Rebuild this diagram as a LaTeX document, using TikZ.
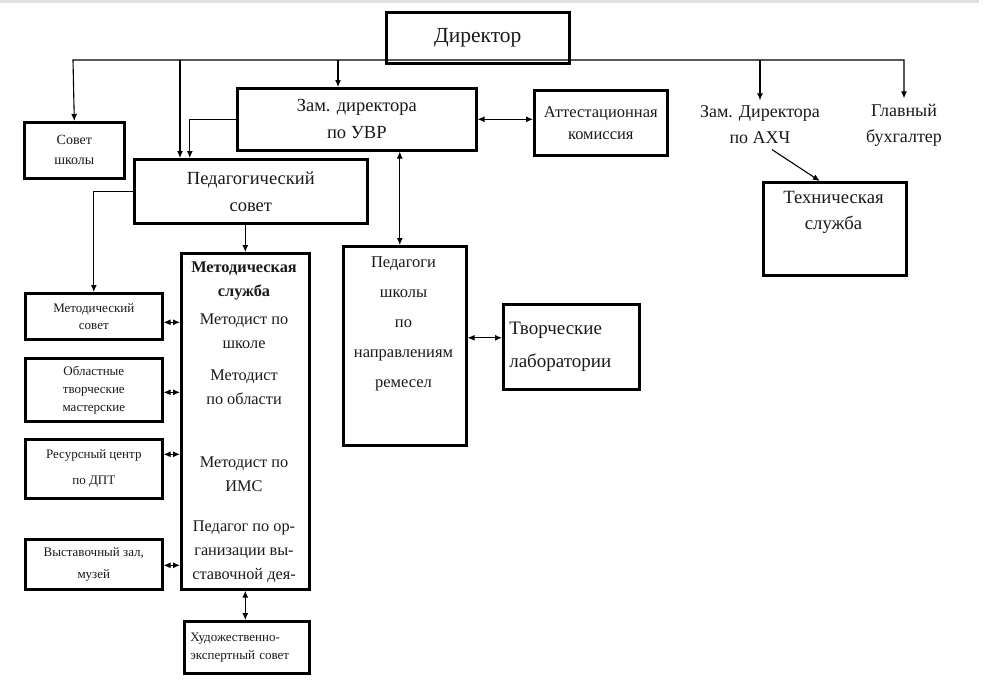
\documentclass[tikz,border=0pt]{standalone}
\usepackage{fontspec}
\setmainfont{Liberation Serif}
\usetikzlibrary{arrows.meta}
\definecolor{ink}{gray}{0.1}

\begin{document}
\begin{tikzpicture}[x=1pt,y=-1pt,>={Latex[length=7pt,width=6pt]},line width=1.1pt,
                    every node/.style={text=ink}]
  \tikzstyle{box}=[draw=black,line width=2.6pt,inner sep=2pt,align=center,
                   anchor=north west]
  \tikzstyle{plain}=[inner sep=2pt,align=center]
  \useasboundingbox (0,0) rectangle (984,697);
  \fill[black!12] (0,0) rectangle (979,3);

  % top level
  \node[box,minimum width=183pt,minimum height=51pt,
        font=\fontsize{21.5}{24}\selectfont] (dir) at (385,11) {Директор};
  \node[box,minimum width=239pt,minimum height=62pt,
        font=\fontsize{18.5}{27}\selectfont] (uvr) at (236,87)
        {Зам. директора\\по УВР};
  \node[box,minimum width=100pt,minimum height=56pt,
        font=\fontsize{14}{20}\selectfont] (sovet) at (23,121)
        {Совет\\школы};
  \node[box,minimum width=233pt,minimum height=64pt,
        font=\fontsize{18.5}{27}\selectfont] (ped) at (133,158)
        {Педагогический\\совет};
  \node[box,minimum width=133pt,minimum height=65pt,
        font=\fontsize{16.5}{22}\selectfont] (att) at (533,89)
        {Аттестационная\\комиссия};
  \node[plain,inner ysep=5pt,font=\fontsize{18}{26}\selectfont] (axch)
        at (760,125) {Зам. Директора\\по АХЧ};
  \node[plain,inner ysep=5pt,font=\fontsize{18}{26}\selectfont] (buh)
        at (904,125) {Главный\\бухгалтер};
  \node[box,minimum width=143pt,minimum height=93pt] (tech) at (762,181) {};
  \node[plain,inner sep=0pt,anchor=north,font=\fontsize{18.7}{26}\selectfont]
        (techT) at (833.5,191) {Техническая\\служба};

  % middle
  \node[box,minimum width=123pt,minimum height=199pt] (pedag) at (342,245) {};
  \node[plain,inner sep=0pt,anchor=north,font=\fontsize{16.5}{30}\selectfont]
        (pedagT) at (403.5,256) {Педагоги\\школы\\по\\направлениям\\ремесел};
  \node[box,align=left,text width=124pt,inner xsep=6pt,minimum height=85pt,
        font=\fontsize{19}{33}\selectfont] (lab) at (502,303)
        {Творческие\\лаборатории};

  \node[box,minimum width=128pt,minimum height=336pt] (mserv) at (180,252) {};
  \node[plain,inner sep=0pt,anchor=north,font=\fontsize{16.3}{24}\selectfont]
        (mservT) at (244,261)
        {\textbf{Методическая}\\\textbf{служба}\\[4pt]Методист по\\школе\\[8pt]%
         Методист\\по области\\[39pt]Методист по\\ИМС\\[16pt]%
         Педагог по ор-\\ганизации вы-\\ставочной дея-};

  % left column
  \node[box,minimum width=137pt,minimum height=46pt,
        font=\fontsize{13}{17}\selectfont] (msov) at (24,292)
        {Методический\\совет};
  \node[box,minimum width=137pt,minimum height=63pt,
        font=\fontsize{13}{18}\selectfont] (obl) at (24,357)
        {Областные\\творческие\\мастерские};
  \node[box,minimum width=137pt,minimum height=59pt,
        font=\fontsize{13}{26}\selectfont] (res) at (24,438)
        {Ресурсный центр\\по ДПТ};
  \node[box,minimum width=137pt,minimum height=50pt,
        font=\fontsize{13}{22}\selectfont] (vyst) at (24,538)
        {Выставочный зал,\\музей};
  \node[box,align=left,text width=113pt,inner xsep=6pt,minimum height=52pt,
        font=\fontsize{13}{18}\selectfont] (hud) at (183,620)
        {Художественно-\\экспертный совет};

  % links from the director
  \coordinate (busL) at (73,60);
  \coordinate (busR) at (buh.north |- busL);
  \draw[<->] (sovet.north) -- (busL) -- (busR) -- (buh.north);
  \coordinate (b1) at (180,60);
  \coordinate (b2) at (338,60);
  \draw[->] (b1) -- (b1 |- ped.north);
  \draw[->] (b2) -- (b2 |- uvr.north);
  \draw[->] (axch.north |- busL) -- (axch.north);

  \draw[->] (uvr.west) -| ([xshift=-61pt]ped.north);
  \draw[<->] (uvr.east) -- (uvr.east -| att.west);
  \coordinate (pu) at ([xshift=-5pt]pedag.north);
  \draw[<->] (pu |- uvr.south) -- (pu);
  \draw[->] ([xshift=12pt]axch.south) -- ([xshift=-15pt]tech.north);

  \draw[->] (ped.west) -| (msov.north);
  \draw[->] (ped.south -| mserv.north) -- (mserv.north);
  \foreach \n/\s in {msov/-6,obl/-2.5,res/14.5,vyst/-1} {
    \coordinate (e) at ([yshift=\s pt]\n.east);
    \draw[<->] (e) -- (e -| mserv.west);
  }
  \draw[<->] (mserv.south) -- (mserv.south |- hud.north);
  \coordinate (lw) at ([yshift=9pt]lab.west);
  \draw[<->] (lw) -- (lw -| pedag.east);
\end{tikzpicture}
\end{document}
